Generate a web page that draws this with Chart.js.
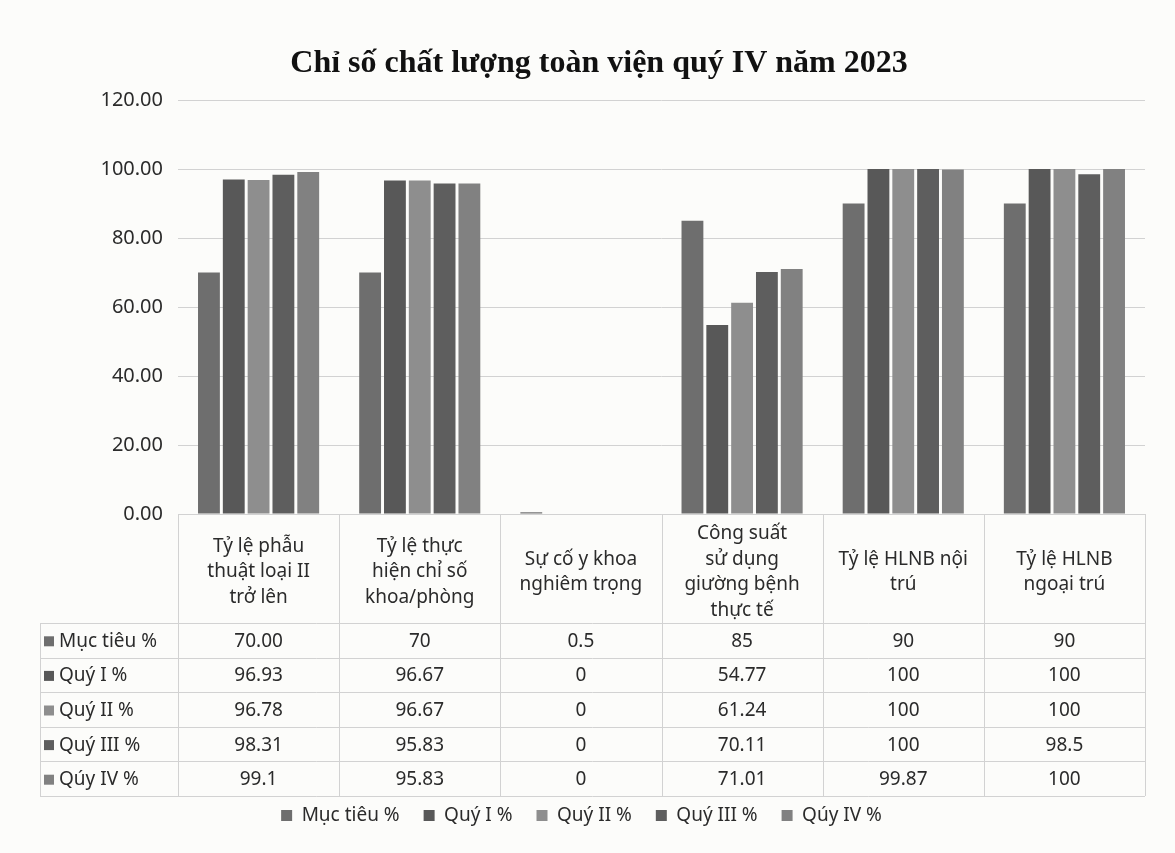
<!DOCTYPE html>
<html lang="vi">
<head>
<meta charset="utf-8">
<title>Chỉ số chất lượng toàn viện quý IV năm 2023</title>
<script src="https://cdn.jsdelivr.net/npm/chart.js@4/dist/chart.umd.min.js"></script>
<style>
  html, body { margin: 0; padding: 0; background: #fcfcfa; }
  #wrap { width: 1175px; height: 853px; }
</style>
</head>
<body>
<div id="wrap"><canvas id="c" width="1175" height="853"></canvas></div>
<script>
// Indicator names (shown in the data table header, one array entry per line)
const categories = [
  ['Tỷ lệ phẫu', 'thuật loại II', 'trở lên'],
  ['Tỷ lệ thực', 'hiện chỉ số', 'khoa/phòng'],
  ['Sự cố y khoa', 'nghiêm trọng'],
  ['Công suất', 'sử dụng', 'giường bệnh', 'thực tế'],
  ['Tỷ lệ HLNB nội', 'trú'],
  ['Tỷ lệ HLNB', 'ngoại trú']
];

const seriesNames = ['Mục tiêu %', 'Quý I %', 'Quý II %', 'Quý III %', 'Qúy IV %'];

const mucTieu = [70, 70, 0.5, 85, 90, 90];
const quy1    = [96.93, 96.67, 0, 54.77, 100, 100];
const quy2    = [96.78, 96.67, 0, 61.24, 100, 100];
const quy3    = [98.31, 95.83, 0, 70.11, 100, 98.5];
const quy4    = [99.1, 95.83, 0, 71.01, 99.87, 100];

const yTicks = [0, 20, 40, 60, 80, 100, 120];

const titleText = 'Chỉ số chất lượng toàn viện quý IV năm 2023';

const seriesColors = ['#6e6e6e', '#585858', '#8e8e8e', '#5e5e5e', '#818181'];
const textColor = '#2b2b2b';
const lineColor = '#d2d2d2';
const uiFont = "'Noto Sans', 'DejaVu Sans', sans-serif";

// cells in the table that keep two decimals
const twoDecimalCells = [[0, 0]];
function cellText(series, col, v) {
  if (twoDecimalCells.some(([s, c]) => s === series && c === col)) return v.toFixed(2);
  return String(v);
}

const allSeries = [mucTieu, quy1, quy2, quy3, quy4];

// page background
const paperBg = {
  id: 'paperBg',
  beforeDraw(chart) {
    const ctx = chart.ctx;
    ctx.save();
    ctx.fillStyle = '#fcfcfa';
    ctx.fillRect(0, 0, chart.width, chart.height);
    ctx.restore();
  }
};

// heading above the plot
const heading = {
  id: 'heading',
  afterDraw(chart) {
    const ctx = chart.ctx;
    ctx.save();
    ctx.fillStyle = '#111';
    ctx.font = "bold 32px 'Liberation Serif', 'Times New Roman', serif";
    ctx.textAlign = 'center';
    ctx.textBaseline = 'middle';
    ctx.fillText(titleText, 599, 64);
    ctx.restore();
  }
};

// data table under the plot: header with category names, one row per series
const dataTable = {
  id: 'dataTable',
  afterDraw(chart) {
    const { ctx, chartArea, scales } = chart;
    const x = scales.x;
    const n = categories.length;
    const colW = (chartArea.right - chartArea.left) / n;
    const top = chartArea.bottom;
    const headerH = 109;
    const rowH = 34.6;
    const rowsTop = top + headerH;
    const bottom = rowsTop + rowH * allSeries.length;
    const labelLeft = 40;

    ctx.save();
    ctx.strokeStyle = lineColor;
    ctx.lineWidth = 1;

    // horizontal lines
    ctx.beginPath();
    ctx.moveTo(chartArea.left, top + 0.5);
    ctx.lineTo(chartArea.right, top + 0.5);
    for (let r = 0; r <= allSeries.length; r++) {
      const y = Math.round(rowsTop + r * rowH) + 0.5;
      ctx.moveTo(labelLeft, y);
      ctx.lineTo(chartArea.right, y);
    }
    // vertical lines
    for (let c = 0; c <= n; c++) {
      const xx = Math.round(chartArea.left + c * colW) + 0.5;
      ctx.moveTo(xx, top);
      ctx.lineTo(xx, bottom);
    }
    ctx.moveTo(labelLeft + 0.5, rowsTop);
    ctx.lineTo(labelLeft + 0.5, bottom);
    ctx.stroke();

    ctx.fillStyle = textColor;
    ctx.textAlign = 'center';
    ctx.textBaseline = 'middle';

    // header text
    ctx.font = '19px ' + uiFont;
    const lh = 25.5;
    categories.forEach((lines, i) => {
      const cx = x.getPixelForValue(i);
      const cy = top + 58;
      const startY = cy - (lines.length - 1) * lh / 2;
      lines.forEach((t, k) => ctx.fillText(t, cx, startY + k * lh));
    });

    // values
    allSeries.forEach((vals, s) => {
      const cy = rowsTop + s * rowH + rowH / 2 + 1;
      vals.forEach((v, i) => {
        ctx.fillText(cellText(s, i, v), x.getPixelForValue(i), cy);
      });
      // row label with colour key
      ctx.fillStyle = seriesColors[s];
      ctx.fillRect(labelLeft + 4, cy - 5, 10, 10);
      ctx.fillStyle = textColor;
      ctx.textAlign = 'left';
      ctx.fillText(seriesNames[s], labelLeft + 19, cy);
      ctx.textAlign = 'center';
    });
    ctx.restore();
  }
};

new Chart(document.getElementById('c'), {
  type: 'bar',
  data: {
    labels: categories.map(l => l.join(' ')),
    datasets: allSeries.map((vals, s) => ({
      label: seriesNames[s],
      data: vals,
      backgroundColor: seriesColors[s],
      borderWidth: 0,
      categoryPercentage: 0.77,
      barPercentage: 0.88
    }))
  },
  options: {
    responsive: false,
    animation: false,
    devicePixelRatio: 1,
    layout: { padding: { left: 18, right: 30, top: 100, bottom: 18 } },
    plugins: {
      title: { display: false },
      legend: {
        position: 'bottom',
        labels: {
          color: textColor,
          font: { family: uiFont, size: 19 },
          boxWidth: 11,
          boxHeight: 11,
          padding: 24
        }
      },
      tooltip: { enabled: false }
    },
    scales: {
      x: {
        display: true,
        grid: { display: false },
        border: { display: false },
        ticks: { display: false },
        afterFit(s) { s.height = 268; }
      },
      y: {
        min: 0,
        max: 120,
        afterBuildTicks(s) { s.ticks = yTicks.map(v => ({ value: v })); },
        afterFit(s) { s.width = 160; },
        grid: { color: lineColor, lineWidth: 1, drawTicks: false },
        border: { display: false },
        ticks: {
          color: textColor,
          padding: 15,
          font: { family: uiFont, size: 20 },
          callback: v => Number(v).toFixed(2)
        }
      }
    }
  },
  plugins: [paperBg, heading, dataTable]
});
</script>
</body>
</html>
